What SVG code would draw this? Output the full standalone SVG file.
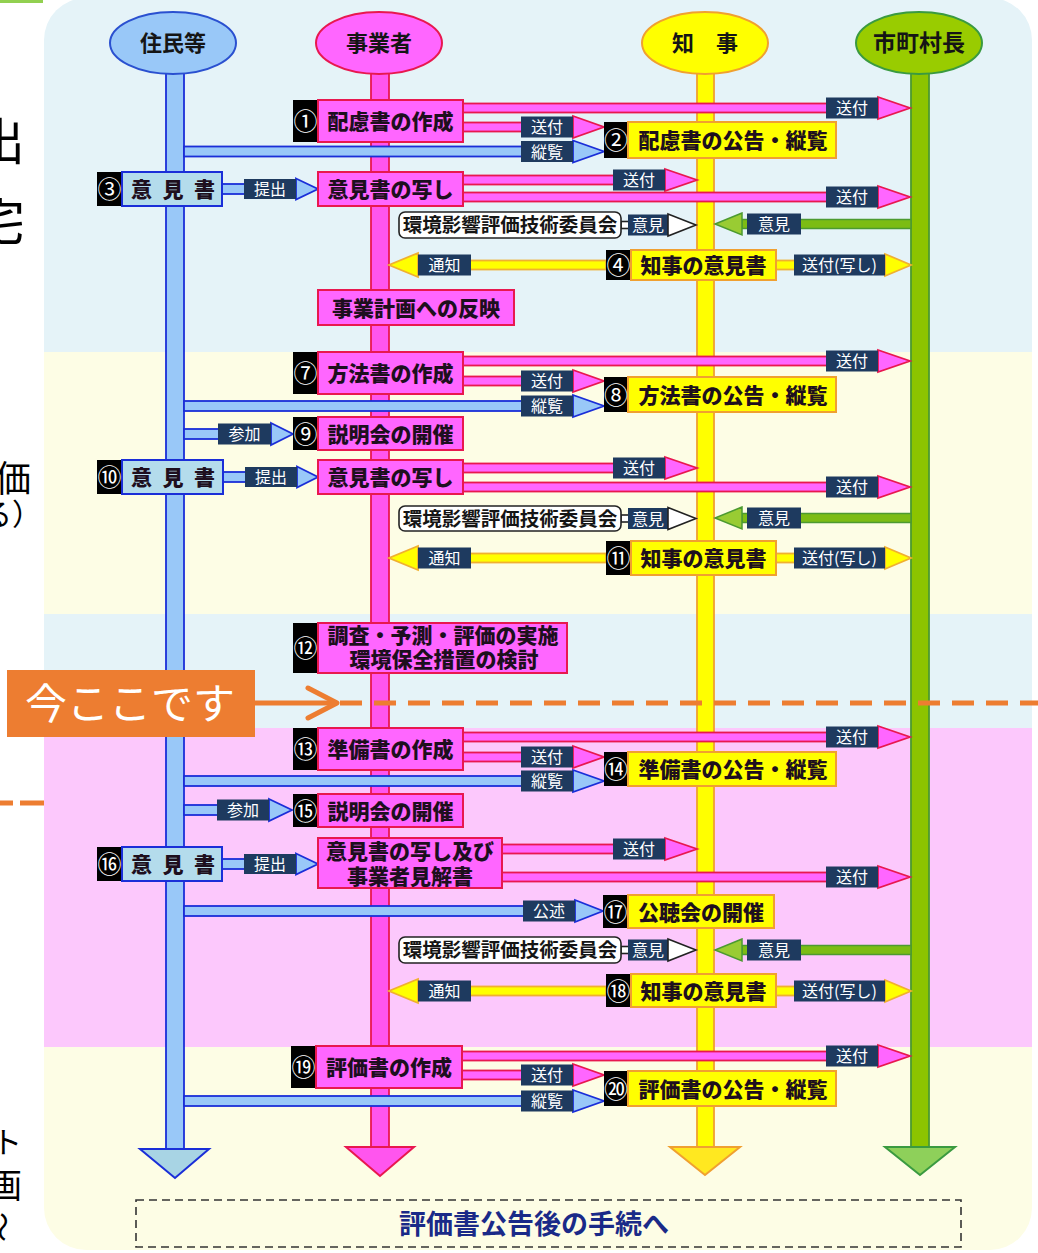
<svg xmlns="http://www.w3.org/2000/svg" width="1038" height="1253" viewBox="0 0 1038 1253">
<style>
text{font-family:"Noto Sans CJK JP","Noto Sans",sans-serif}
.bt{font-size:21px;font-weight:900;fill:#1e0f1e;text-anchor:middle}
.hd{font-size:22px;font-weight:bold;fill:#151515;text-anchor:middle}
.nt{font-size:24px;fill:#fff;text-anchor:middle}
.lt{font-size:16px;fill:#fff;text-anchor:middle}
.ct{font-size:19.5px;font-weight:bold;fill:#151515;text-anchor:middle}
.blk{fill:#000}
.mb{fill:#ff66ff;stroke:#e8184f;stroke-width:2}
.yb{fill:#ffff00;stroke:#f0a030;stroke-width:2}
.lb{fill:#b4dcec;stroke:#1a2ed8;stroke-width:2}
.cb{fill:#fff;stroke:#222;stroke-width:1.6}
.ms{fill:#ff66ff;stroke:#e8184f;stroke-width:1.8}
.bs{fill:#99c8f8;stroke:#1a2ed8;stroke-width:1.8}
.ys{fill:#ffff00;stroke:#f0b030;stroke-width:1.8}
.gs{fill:#7cbc14;stroke:#4c9a30;stroke-width:1.5}
.gh{fill:#99cc33;stroke:#4c9a30;stroke-width:1.5}
.wh{fill:#fff;stroke:#222;stroke-width:1.6}
.lab{fill:#1e3a5f}
.left{font-family:"Noto Sans CJK JP",serif;fill:#000}
</style>
<defs>
<clipPath id="panel"><rect x="44" y="-2" width="988" height="1252" rx="42"/></clipPath>
</defs>
<rect x="0" y="0" width="1038" height="1253" fill="#fff"/>
<rect x="0" y="0" width="43" height="3" fill="#92d050"/>
<g id="background" clip-path="url(#panel)">
<rect x="44" y="-2" width="988" height="354" fill="#e5f3f8"/>
<rect x="44" y="352" width="988" height="262" fill="#fdfde5"/>
<rect x="44" y="614" width="988" height="114" fill="#e5f3f8"/>
<rect x="44" y="728" width="988" height="319" fill="#fcc8fc"/>
<rect x="44" y="1047" width="988" height="206" fill="#fdfde5"/>
</g>

<g id="lane-jumin">
<rect x="166" y="70" width="18" height="1080" fill="#99c8f8" stroke="#1a2ed8" stroke-width="1.8"/>
<polygon points="140,1149 209,1149 175,1178" fill="#a8d4e4" stroke="#1a2ed8" stroke-width="2"/>
<ellipse cx="173" cy="43" rx="63" ry="31" fill="#99c8f8" stroke="#2a50d0" stroke-width="2"/>
<text class="hd" x="173" y="51">住民等</text>
</g>
<g id="lane-jigyosha">
<rect x="371" y="70" width="18" height="1078" fill="#ff55ee" stroke="#e8184f" stroke-width="1.8"/>
<polygon points="346,1147 414,1147 380,1176" fill="#ff55ee" stroke="#e8184f" stroke-width="2"/>
<ellipse cx="379" cy="43" rx="63" ry="31" fill="#ff66ff" stroke="#e8184f" stroke-width="2"/>
<text class="hd" x="379" y="51">事業者</text>
</g>
<g id="lane-chiji">
<rect x="697" y="70" width="17" height="1078" fill="#ffff00" stroke="#f0a030" stroke-width="1.8"/>
<polygon points="670,1147 740,1147 705,1175" fill="#ffe820" stroke="#f0a030" stroke-width="2"/>
<ellipse cx="705" cy="43" rx="63" ry="31" fill="#ffff00" stroke="#f0a030" stroke-width="2"/>
<text class="hd" x="705" y="51">知　事</text>
</g>
<g id="lane-shichoson">
<rect x="911" y="70" width="18" height="1078" fill="#8cc400" stroke="#4c9a30" stroke-width="1.8"/>
<polygon points="885,1147 955,1147 920,1175" fill="#8ed05a" stroke="#3a9a40" stroke-width="2"/>
<ellipse cx="919" cy="43" rx="63" ry="31" fill="#99cc00" stroke="#3a9a40" stroke-width="2"/>
<text class="hd" x="919" y="51" style="font-size:23px">市町村長</text>
</g>

<g id="connectors">
<rect class="ms" x="463" y="103.5" width="415" height="9"/><polygon class="ms" points="878,97 910,108 878,119"/><rect class="lab" x="826" y="97.5" width="52" height="21"/><text class="lt" x="852" y="114">送付</text>
<rect class="ms" x="463" y="122.5" width="110" height="9"/><polygon class="ms" points="573,116 604,127 573,138"/><rect class="lab" x="521" y="116.5" width="52" height="21"/><text class="lt" x="547" y="133">送付</text>
<rect class="ms" x="463" y="175.5" width="202" height="9"/><polygon class="ms" points="665,169 697,180 665,191"/><rect class="lab" x="613" y="169.5" width="52" height="21"/><text class="lt" x="639" y="186">送付</text>
<rect class="ms" x="463" y="192.5" width="415" height="9"/><polygon class="ms" points="878,186 910,197 878,208"/><rect class="lab" x="826" y="186.5" width="52" height="21"/><text class="lt" x="852" y="203">送付</text>

<rect class="ms" x="463" y="356.5" width="415" height="9"/><polygon class="ms" points="878,350 910,361 878,372"/><rect class="lab" x="826" y="350.5" width="52" height="21"/><text class="lt" x="852" y="367">送付</text>
<rect class="ms" x="463" y="376.5" width="110" height="9"/><polygon class="ms" points="573,370 604,381 573,392"/><rect class="lab" x="521" y="370.5" width="52" height="21"/><text class="lt" x="547" y="387">送付</text>
<rect class="ms" x="463" y="463.5" width="202" height="9"/><polygon class="ms" points="665,457 697,468 665,479"/><rect class="lab" x="613" y="457.5" width="52" height="21"/><text class="lt" x="639" y="474">送付</text>
<rect class="ms" x="463" y="482.5" width="415" height="9"/><polygon class="ms" points="878,476 910,487 878,498"/><rect class="lab" x="826" y="476.5" width="52" height="21"/><text class="lt" x="852" y="493">送付</text>

<rect class="ms" x="463" y="732.5" width="415" height="9"/><polygon class="ms" points="878,726 910,737 878,748"/><rect class="lab" x="826" y="726.5" width="52" height="21"/><text class="lt" x="852" y="743">送付</text>
<rect class="ms" x="463" y="752.5" width="110" height="9"/><polygon class="ms" points="573,746 604,757 573,768"/><rect class="lab" x="521" y="746.5" width="52" height="21"/><text class="lt" x="547" y="763">送付</text>
<rect class="ms" x="502" y="844.5" width="163" height="9"/><polygon class="ms" points="665,838 697,849 665,860"/><rect class="lab" x="613" y="838.5" width="52" height="21"/><text class="lt" x="639" y="855">送付</text>
<rect class="ms" x="502" y="872.5" width="376" height="9"/><polygon class="ms" points="878,866 910,877 878,888"/><rect class="lab" x="826" y="866.5" width="52" height="21"/><text class="lt" x="852" y="883">送付</text>

<rect class="ms" x="462" y="1051.5" width="416" height="9"/><polygon class="ms" points="878,1045 910,1056 878,1067"/><rect class="lab" x="826" y="1045.5" width="52" height="21"/><text class="lt" x="852" y="1062">送付</text>
<rect class="ms" x="462" y="1070.5" width="111" height="9"/><polygon class="ms" points="573,1064 604,1075 573,1086"/><rect class="lab" x="521" y="1064.5" width="52" height="21"/><text class="lt" x="547" y="1081">送付</text>

<rect class="bs" x="184" y="146.5" width="389" height="10"/><polygon class="bs" points="573,140.5 604,151.5 573,162.5"/><rect class="lab" x="521" y="141" width="52" height="21"/><text class="lt" x="547" y="157.5">縦覧</text>
<rect class="bs" x="222" y="184" width="74" height="10"/><polygon class="bs" points="296,178.5 318,189 296,199.5"/><rect class="lab" x="244" y="179" width="52" height="20"/><text class="lt" x="270" y="195">提出</text>
<rect class="bs" x="184" y="401" width="389" height="10"/><polygon class="bs" points="573,395 604,406 573,417"/><rect class="lab" x="521" y="395.5" width="52" height="21"/><text class="lt" x="547" y="412">縦覧</text>
<rect class="bs" x="184" y="429" width="87" height="10"/><polygon class="bs" points="271,423 293,434 271,445"/><rect class="lab" x="218" y="423.5" width="53" height="21"/><text class="lt" x="244.5" y="440">参加</text>
<rect class="bs" x="223" y="472" width="74" height="10"/><polygon class="bs" points="297,466.5 318,477 297,487.5"/><rect class="lab" x="245" y="467" width="52" height="20"/><text class="lt" x="271" y="483">提出</text>
<rect class="bs" x="184" y="776" width="389" height="10"/><polygon class="bs" points="573,770 604,781 573,792"/><rect class="lab" x="521" y="770.5" width="52" height="21"/><text class="lt" x="547" y="787">縦覧</text>
<rect class="bs" x="184" y="805" width="85" height="10"/><polygon class="bs" points="269,799 292,810 269,821"/><rect class="lab" x="217" y="799.5" width="52" height="21"/><text class="lt" x="243" y="816">参加</text>
<rect class="bs" x="222" y="859" width="74" height="10"/><polygon class="bs" points="296,853.5 318,864 296,874.5"/><rect class="lab" x="244" y="854" width="52" height="20"/><text class="lt" x="270" y="870">提出</text>
<rect class="bs" x="184" y="906" width="391" height="10"/><polygon class="bs" points="575,900 603,911 575,922"/><rect class="lab" x="523" y="900.5" width="52" height="21"/><text class="lt" x="549" y="917">公述</text>
<rect class="bs" x="184" y="1096" width="389" height="10"/><polygon class="bs" points="573,1090 604,1101 573,1112"/><rect class="lab" x="521" y="1090.5" width="52" height="21"/><text class="lt" x="547" y="1107">縦覧</text>

<rect class="ys" x="418" y="260.5" width="188" height="9"/><polygon class="ys" points="418,253 389,265 418,277"/><rect class="lab" x="418" y="254.5" width="53" height="21"/><text class="lt" x="444.5" y="271">通知</text>
<rect class="ys" x="776" y="260.5" width="109" height="9"/><polygon class="ys" points="885,254 911,265 885,276"/><rect class="lab" x="794" y="254.5" width="91" height="21"/><text class="lt" x="839.5" y="271">送付(写し)</text>
<rect class="ys" x="418" y="553.5" width="188" height="9"/><polygon class="ys" points="418,546 389,558 418,570"/><rect class="lab" x="418" y="547.5" width="53" height="21"/><text class="lt" x="444.5" y="564">通知</text>
<rect class="ys" x="776" y="553.5" width="109" height="9"/><polygon class="ys" points="885,547 911,558 885,569"/><rect class="lab" x="794" y="547.5" width="91" height="21"/><text class="lt" x="839.5" y="564">送付(写し)</text>
<rect class="ys" x="418" y="986.5" width="188" height="9"/><polygon class="ys" points="418,979 389,991 418,1003"/><rect class="lab" x="418" y="980.5" width="53" height="21"/><text class="lt" x="444.5" y="997">通知</text>
<rect class="ys" x="776" y="986.5" width="109" height="9"/><polygon class="ys" points="885,980 911,991 885,1002"/><rect class="lab" x="794" y="980.5" width="91" height="21"/><text class="lt" x="839.5" y="997">送付(写し)</text>

<rect class="gs" x="742" y="219.5" width="169" height="9"/><polygon class="gh" points="742,213 715,224 742,235"/><rect class="lab" x="747" y="213.5" width="54" height="21"/><text class="lt" x="774" y="230">意見</text>
<rect class="gs" x="742" y="513.5" width="169" height="9"/><polygon class="gh" points="742,507 715,518 742,529"/><rect class="lab" x="747" y="507.5" width="54" height="21"/><text class="lt" x="774" y="524">意見</text>
<rect class="gs" x="742" y="945.5" width="169" height="9"/><polygon class="gh" points="742,939 715,950 742,961"/><rect class="lab" x="747" y="939.5" width="54" height="21"/><text class="lt" x="774" y="956">意見</text>

<rect class="wh" x="621" y="221.5" width="8" height="7"/><rect class="lab" x="628" y="214.5" width="40" height="21"/><text class="lt" x="648" y="231">意見</text><polygon class="wh" points="668,214 696,225 668,236"/>
<rect class="wh" x="621" y="515" width="8" height="7"/><rect class="lab" x="628" y="508" width="40" height="21"/><text class="lt" x="648" y="524.5">意見</text><polygon class="wh" points="668,507.5 696,518.5 668,529.5"/>
<rect class="wh" x="621" y="946.5" width="8" height="7"/><rect class="lab" x="628" y="939.5" width="40" height="21"/><text class="lt" x="648" y="956">意見</text><polygon class="wh" points="668,939 696,950 668,961"/>
</g>

<g id="n1"><rect class="blk" x="293" y="100" width="25" height="42"/><rect class="mb" x="318" y="100" width="145" height="42"/><text class="nt" x="305.5" y="130">①</text><text class="bt" x="390.5" y="129">配慮書の作成</text></g>
<g id="n2"><rect class="blk" x="604" y="122" width="24" height="36"/><rect class="yb" x="628" y="122" width="208" height="36"/><text class="nt" x="616" y="149">②</text><text class="bt" x="733" y="148">配慮書の公告・縦覧</text></g>
<g id="n3"><rect class="blk" x="97" y="172" width="25" height="34"/><rect class="lb" x="122" y="172" width="100" height="34"/><text class="nt" x="109.5" y="198">③</text><text class="bt" x="141.5 173 204.5" y="197">意見書</text></g>
<g id="n3b"><rect class="mb" x="318" y="172" width="145" height="34"/><text class="bt" x="390.5" y="197">意見書の写し</text></g>
<g id="com1"><rect class="cb" x="399" y="212" width="222" height="26" rx="6"/><text class="ct" x="510" y="232">環境影響評価技術委員会</text></g>
<g id="n4"><rect class="blk" x="606" y="250" width="25" height="30"/><rect class="yb" x="631" y="250" width="145" height="30"/><text class="nt" x="618.5" y="274">④</text><text class="bt" x="703.5" y="273">知事の意見書</text></g>
<g id="n5"><rect class="mb" x="318" y="290" width="196" height="35"/><text class="bt" x="416" y="315.5">事業計画への反映</text></g>

<g id="n7"><rect class="blk" x="293" y="352" width="25" height="42"/><rect class="mb" x="318" y="352" width="145" height="42"/><text class="nt" x="305.5" y="382">⑦</text><text class="bt" x="390.5" y="381">方法書の作成</text></g>
<g id="n8"><rect class="blk" x="604" y="377" width="24" height="35"/><rect class="yb" x="628" y="377" width="208" height="35"/><text class="nt" x="616" y="403.5">⑧</text><text class="bt" x="733" y="402.5">方法書の公告・縦覧</text></g>
<g id="n9"><rect class="blk" x="293" y="417" width="25" height="33"/><rect class="mb" x="318" y="417" width="145" height="33"/><text class="nt" x="305.5" y="442.5">⑨</text><text class="bt" x="390.5" y="441.5">説明会の開催</text></g>
<g id="n10"><rect class="blk" x="97" y="460" width="25" height="34"/><rect class="lb" x="122" y="460" width="101" height="34"/><text class="nt" x="109.5" y="486">⑩</text><text class="bt" x="141.5 173 204.5" y="485">意見書</text></g>
<g id="n10b"><rect class="mb" x="318" y="460" width="145" height="34"/><text class="bt" x="390.5" y="485">意見書の写し</text></g>
<g id="com2"><rect class="cb" x="399" y="506" width="222" height="25" rx="6"/><text class="ct" x="510" y="525.5">環境影響評価技術委員会</text></g>
<g id="n11"><rect class="blk" x="606" y="541" width="25" height="34"/><rect class="yb" x="631" y="541" width="145" height="34"/><text class="nt" x="618.5" y="567">⑪</text><text class="bt" x="703.5" y="566">知事の意見書</text></g>

<g id="n12"><rect class="blk" x="293" y="623" width="25" height="50"/><rect class="mb" x="318" y="623" width="249" height="50"/><text class="nt" x="305.5" y="657">⑫</text><text class="bt" x="443" y="643">調査・予測・評価の実施</text><text class="bt" x="444" y="667">環境保全措置の検討</text></g>

<g id="n13"><rect class="blk" x="293" y="728" width="25" height="42"/><rect class="mb" x="318" y="728" width="145" height="42"/><text class="nt" x="305.5" y="758">⑬</text><text class="bt" x="390.5" y="757">準備書の作成</text></g>
<g id="n14"><rect class="blk" x="604" y="752" width="24" height="34"/><rect class="yb" x="628" y="752" width="208" height="34"/><text class="nt" x="616" y="778">⑭</text><text class="bt" x="733" y="777">準備書の公告・縦覧</text></g>
<g id="n15"><rect class="blk" x="293" y="794" width="25" height="33"/><rect class="mb" x="318" y="794" width="145" height="33"/><text class="nt" x="305.5" y="819.5">⑮</text><text class="bt" x="390.5" y="818.5">説明会の開催</text></g>
<g id="n16"><rect class="blk" x="97" y="847" width="25" height="34"/><rect class="lb" x="122" y="847" width="100" height="34"/><text class="nt" x="109.5" y="873">⑯</text><text class="bt" x="141.5 173 204.5" y="872">意見書</text></g>
<g id="n16b"><rect class="mb" x="318" y="838" width="184" height="50"/><text class="bt" x="410" y="859">意見書の写し及び</text><text class="bt" x="410" y="884">事業者見解書</text></g>
<g id="n17"><rect class="blk" x="603" y="895" width="25" height="33"/><rect class="yb" x="628" y="895" width="146" height="33"/><text class="nt" x="615.5" y="920.5">⑰</text><text class="bt" x="701" y="919.5">公聴会の開催</text></g>
<g id="com3"><rect class="cb" x="399" y="937" width="222" height="26" rx="6"/><text class="ct" x="510" y="957">環境影響評価技術委員会</text></g>
<g id="n18"><rect class="blk" x="606" y="974" width="25" height="33"/><rect class="yb" x="631" y="974" width="145" height="33"/><text class="nt" x="618.5" y="999.5">⑱</text><text class="bt" x="703.5" y="998.5">知事の意見書</text></g>

<g id="n19"><rect class="blk" x="291" y="1046" width="25" height="42"/><rect class="mb" x="316" y="1046" width="146" height="42"/><text class="nt" x="303.5" y="1076">⑲</text><text class="bt" x="389" y="1075">評価書の作成</text></g>
<g id="n20"><rect class="blk" x="604" y="1071" width="24" height="35"/><rect class="yb" x="628" y="1071" width="208" height="35"/><text class="nt" x="616" y="1097.5">⑳</text><text class="bt" x="733" y="1096.5">評価書の公告・縦覧</text></g>

<g id="next-step"><rect x="136" y="1200" width="825" height="47" fill="none" stroke="#333" stroke-width="1.6" stroke-dasharray="8 5"/><text x="534" y="1234" style="font-size:27px;font-weight:bold;fill:#1a2a88;text-anchor:middle">評価書公告後の手続へ</text></g>

<g id="now-marker">
<line x1="340" y1="703" x2="1038" y2="703" stroke="#ed7d31" stroke-width="5" stroke-dasharray="22 12"/>
<line x1="255" y1="703" x2="336" y2="703" stroke="#ed7d31" stroke-width="5"/>
<polyline points="308,688 337,703 308,718" fill="none" stroke="#ed7d31" stroke-width="5" stroke-linecap="round" stroke-linejoin="round"/>
<rect x="7" y="670" width="248" height="67" fill="#ed7d31"/>
<text x="25" y="719" style="font-size:42px;fill:#fff">今ここです</text>
<line x1="0" y1="803" x2="44" y2="803" stroke="#ed7d31" stroke-width="5" stroke-dasharray="13 7 24"/>
</g>

<g id="left-partial">
<text class="left" x="-25" y="160" style="font-size:50px">出</text>
<text class="left" x="-25" y="240" style="font-size:50px">宅</text>
<text class="left" x="-5" y="492" style="font-size:36px">価</text>
<text class="left" x="-18" y="525" style="font-size:30px">る）</text>
<text class="left" x="-8" y="1153" style="font-size:30px">ト</text>
<text class="left" x="-12" y="1198" style="font-size:34px">画</text>
<text class="left" transform="translate(-8,1212) rotate(90)" style="font-size:30px">〜</text>
</g>
</svg>
